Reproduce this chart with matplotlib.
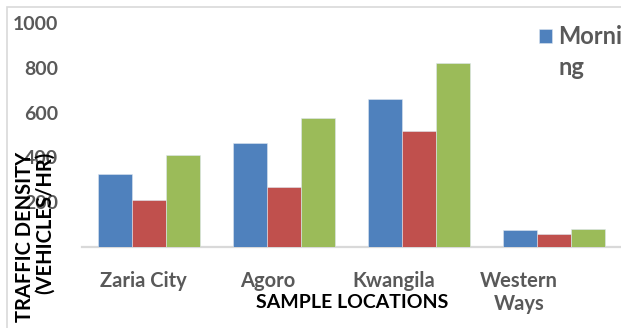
#!/usr/bin/env python3

import numpy as np
import matplotlib
matplotlib.use('Agg')
import matplotlib.pyplot as plt
from matplotlib.patches import Rectangle

# traffic counts per sampling location
locations = ['Zaria City', 'Agoro', 'Kwangila', 'Western\nWays']
morning = [325, 464, 661, 77]
afternoon = [210, 267, 519, 57]
evening = [412, 575, 820, 82]
series_colors = ['#4F81BD', '#C0504D', '#9BBB59']
yticks = [200, 400, 600, 800, 1000]

plt.rcParams['font.family'] = ['Lato', 'DejaVu Sans']
plt.rcParams['font.weight'] = 'bold'

W, H = 621, 328
fig = plt.figure(figsize=(W / 100, H / 100), dpi=100)

# axes box in pixel terms: x 81.5..621.5, y 23..247 from the top
ax = fig.add_axes([81.5 / W, (H - 247) / H, 540 / W, 224 / H])

x = np.arange(len(locations))
width = 0.252
bars = []
for k, vals in enumerate([morning, afternoon, evening]):
    b = ax.bar(x + (k - 1) * width, vals, width, color=series_colors[k],
               edgecolor='#dde6f0', linewidth=0.4, zorder=3)
    bars.append(b)

ax.set_xlim(-0.5, 3.5)
ax.set_ylim(0, 1000)

for side in ['left', 'right', 'top']:
    ax.spines[side].set_visible(False)
ax.spines['bottom'].set_color('#D9D9D9')
ax.spines['bottom'].set_linewidth(1.6)

ax.set_yticks(yticks)
ax.set_yticklabels([str(v) for v in yticks])
ax.tick_params(axis='y', length=0, pad=17, labelsize=14, labelcolor='#595959')

# category labels sit a little left of the bar groups
label_pos = [-0.044, 0.878, 1.815, 2.74]
ax.set_xticks(label_pos)
ax.set_xticklabels(locations, linespacing=1.2)
ax.tick_params(axis='x', length=0, pad=17, labelsize=14.5, labelcolor='#595959')

fig.text(352 / W, 1 - 303 / H, 'SAMPLE LOCATIONS', ha='center', va='center',
         fontsize=14, fontweight='bold', color='black')

fig.text(25.5 / W, 1 - 152 / H, 'TRAFFIC DENSITY', rotation=90, ha='center',
         va='top', fontsize=14.5, fontweight='bold', color='black')
fig.text(44.5 / W, 1 - 152 / H, '(VEHICLES/HR)', rotation=90, ha='center',
         va='top', fontsize=14.5, fontweight='bold', color='black')

# legend entry is too narrow for its label, so it wraps onto a second line
leg = ax.legend(handles=[bars[0]], labels=['Morni'], loc='upper left',
                bbox_to_anchor=(539 / W, 1 - 25 / H),
                bbox_transform=fig.transFigure, frameon=False,
                handlelength=0.55, handleheight=0.55, handletextpad=0.25,
                borderpad=0, borderaxespad=0,
                prop={'size': 17, 'weight': 'bold'})
for t in leg.get_texts():
    t.set_color('#595959')
fig.text(558 / W, 1 - 56 / H, 'ng', ha='left', va='top', fontsize=17,
         fontweight='bold', color='#595959')

# chart area border
fig.patches.append(Rectangle((7 / W, -0.1), 1.2, (H - 7) / H + 0.1,
                             transform=fig.transFigure, fill=False,
                             edgecolor='#D9D9D9', linewidth=1.2))

fig.savefig('out.png', dpi=100)
